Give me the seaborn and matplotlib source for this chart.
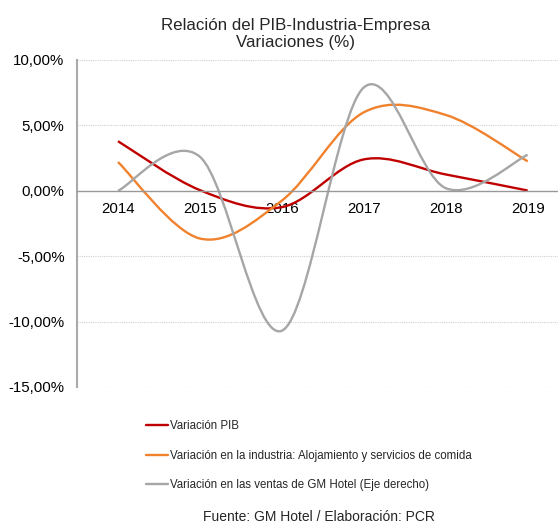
import numpy as np
import pandas as pd
import matplotlib
matplotlib.use("Agg")
import matplotlib.pyplot as plt
from matplotlib.path import Path
from matplotlib.patches import PathPatch
from matplotlib.lines import Line2D
from matplotlib.ticker import FuncFormatter
import seaborn as sns

# Data (%)
years = ["2014", "2015", "2016", "2017", "2018", "2019"]
pib = [3.79, 0.05, -1.25, 2.40, 1.25, 0.02]
industria = [2.20, -3.65, -0.75, 6.00, 5.80, 2.25]
gm_hotel = [0.00, 2.60, -10.70, 7.90, 0.20, 2.75]

labels = [
    "Variación PIB",
    "Variación en la industria: Alojamiento y servicios de comida",
    "Variación en las ventas de GM Hotel (Eje derecho)",
]
colors = ["#C00000", "#F0822E", "#A6A6A6"]

df = pd.DataFrame({"year": years, "PIB": pib, "Industria": industria, "GM Hotel": gm_hotel})

sns.set_theme(style="white")
plt.rcParams["font.family"] = ["Liberation Sans", "DejaVu Sans"]


def smooth_path(xs, ys):
    # Excel-style smoothed line: cubic Bezier through each data point
    pts = np.column_stack([xs, ys]).astype(float)
    n = len(pts)
    verts = [pts[0]]
    codes = [Path.MOVETO]
    for i in range(n - 1):
        p_prev = pts[i - 1] if i > 0 else pts[i]
        p_next2 = pts[i + 2] if i + 2 < n else pts[i + 1]
        c1 = pts[i] + (pts[i + 1] - p_prev) / 6
        c2 = pts[i + 1] - (p_next2 - pts[i]) / 6
        verts += [c1, c2, pts[i + 1]]
        codes += [Path.CURVE4] * 3
    return Path(verts, codes)


fig = plt.figure(figsize=(5.58, 5.24), dpi=100)
ax = fig.add_axes([0.138, 0.2615, 0.862, 0.624])

x = np.arange(len(years))
for col, color in zip(["PIB", "Industria", "GM Hotel"], colors):
    patch = PathPatch(smooth_path(x, df[col].values), facecolor="none",
                      edgecolor=color, linewidth=1.7, capstyle="butt")
    ax.add_patch(patch)

ax.set_xlim(-0.5, 5.37)
ax.set_ylim(-15, 10)
ax.set_yticks([-15, -10, -5, 0, 5, 10])
ax.yaxis.set_major_formatter(FuncFormatter(lambda v, _: f"{v:.2f}%".replace(".", ",")))
ax.set_xticks(x)
ax.set_xticklabels(years)
ax.tick_params(axis="both", length=0, labelsize=10.8, colors="black")
ax.tick_params(axis="x", pad=8)
ax.tick_params(axis="y", pad=9)

for yv in [-15, -10, -5, 5, 10]:
    ax.axhline(yv, color="#D0D0D0", linewidth=0.8, linestyle=(0, (1, 1)), zorder=0)

sns.despine(ax=ax, top=True, right=True)
ax.spines["bottom"].set_position(("data", 0))
ax.spines["bottom"].set_color("#999999")
ax.spines["bottom"].set_linewidth(1.0)
ax.spines["left"].set_color("#AAAAAA")
ax.spines["left"].set_linewidth(1.5)

fig.text(0.53, 0.966, "Relación del PIB-Industria-Empresa\nVariaciones (%)",
         ha="center", va="top", fontsize=12.2, linespacing=1.15)

handles = [Line2D([0], [0], color=c, linewidth=1.7) for c in colors]
fig.legend(handles, labels, loc="upper left", bbox_to_anchor=(0.251, 0.209),
           frameon=False, fontsize=8.3, handlelength=1.95, handletextpad=0.15,
           labelspacing=1.5, borderpad=0)

fig.text(0.572, 0.006, "Fuente: GM Hotel / Elaboración: PCR", ha="center",
         va="baseline", fontsize=10)

plt.savefig("out.png", dpi=100)
